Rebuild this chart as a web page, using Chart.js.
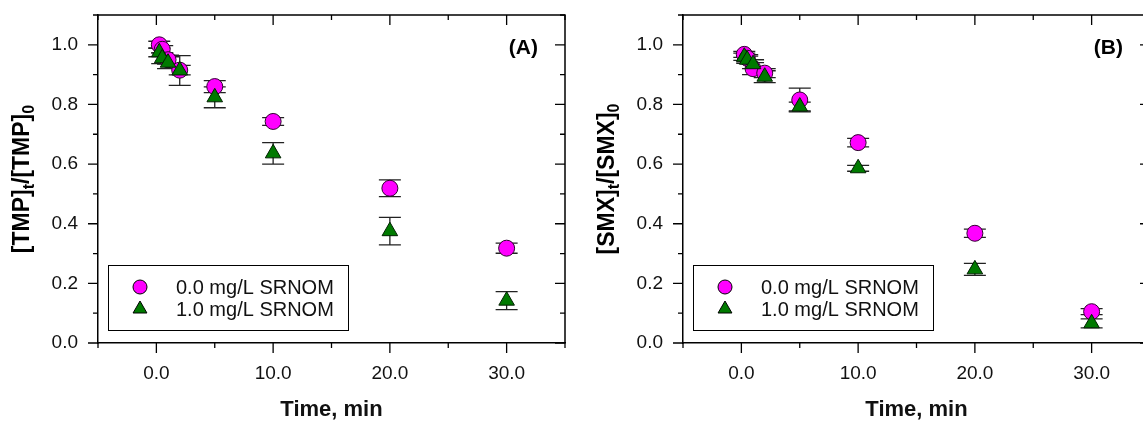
<!DOCTYPE html>
<html>
<head>
<meta charset="utf-8">
<script src="https://cdn.jsdelivr.net/npm/chart.js@4.4.0/dist/chart.umd.min.js"></script>
<style>
html, body { margin: 0; padding: 0; background: #fff; overflow: hidden; }
#wrap { position: relative; width: 1143px; height: 423px; overflow: hidden; }
canvas { position: absolute; top: 0; }
#chartA { left: 0; }
#chartB { left: 585px; }
</style>
</head>
<body>
<div id="wrap">
	<canvas id="chartA" width="580" height="423"></canvas>
	<canvas id="chartB" width="580" height="423"></canvas>
</div>
<script>
// sampling times (min)
var times = [0.25, 0.5, 1, 2, 5, 10, 20, 30];
var seriesLabels = ['0.0 mg/L SRNOM', '1.0 mg/L SRNOM'];

// panel A : TMP
var tmpNoNom    = [1.00, 0.985, 0.95, 0.915, 0.860, 0.743, 0.519, 0.318];
var tmpNoNomErr = [0.012, 0.012, 0.015, 0.016, 0.020, 0.013, 0.028, 0.017];
var tmpNom      = [0.975, 0.955, 0.940, 0.914, 0.824, 0.636, 0.375, 0.142];
var tmpNomErr   = [0.015, 0.018, 0.020, 0.050, 0.035, 0.036, 0.046, 0.030];

// panel B : SMX
var smxNoNom    = [0.968, 0.955, 0.920, 0.905, 0.815, 0.672, 0.368, 0.105];
var smxNoNomErr = [0.010, 0.012, 0.020, 0.015, 0.040, 0.014, 0.014, 0.010];
var smxNom      = [0.960, 0.950, 0.935, 0.893, 0.793, 0.586, 0.247, 0.066];
var smxNomErr   = [0.012, 0.012, 0.015, 0.020, 0.015, 0.010, 0.020, 0.015];

var FONT = '"Liberation Sans", Arial, sans-serif';
var MAGENTA = '#ff00ff', GREEN = '#007a00';

function points(vals) {
	return times.map(function(t, i){ return {x: t, y: vals[i]}; });
}

var decorPlugin = {
	id: 'decor',
	beforeDatasetsDraw: function(chart) {
		// error bars
		var ctx = chart.ctx, xs = chart.scales.x, ys = chart.scales.y;
		ctx.save();
		ctx.strokeStyle = '#222';
		ctx.lineWidth = 1.3;
		chart.data.datasets.forEach(function(ds){
			ds.errors.forEach(function(e, i){
				var px = xs.getPixelForValue(ds.data[i].x);
				var top = ys.getPixelForValue(ds.data[i].y + e);
				var bot = ys.getPixelForValue(ds.data[i].y - e);
				ctx.beginPath();
				ctx.moveTo(px, top); ctx.lineTo(px, bot);
				ctx.moveTo(px - 11, top); ctx.lineTo(px + 11, top);
				ctx.moveTo(px - 11, bot); ctx.lineTo(px + 11, bot);
				ctx.stroke();
			});
		});
		ctx.restore();
	},
	afterDraw: function(chart, args, opts) {
		var ctx = chart.ctx, a = chart.chartArea;
		var xs = chart.scales.x, ys = chart.scales.y;
		ctx.save();
		ctx.strokeStyle = '#000';
		ctx.fillStyle = '#000';

		// frame top / right
		ctx.lineWidth = 1.5;
		ctx.beginPath();
		ctx.moveTo(a.left, a.top); ctx.lineTo(a.right, a.top); ctx.lineTo(a.right, a.bottom);
		ctx.stroke();

		// tick marks: outward on bottom/left, inward on top/right
		ctx.lineWidth = 1.3;
		ctx.beginPath();
		xs.ticks.forEach(function(t){
			var px = xs.getPixelForValue(t.value);
			var len = (Math.round(t.value) % 10 === 0) ? 10 : 5;
			ctx.moveTo(px, a.bottom); ctx.lineTo(px, a.bottom + len);
			ctx.moveTo(px, a.top); ctx.lineTo(px, a.top + len);
		});
		ys.ticks.forEach(function(t, i){
			var py = ys.getPixelForValue(t.value);
			var len = (i % 2 === 0) ? 10 : 5;
			ctx.moveTo(a.left, py); ctx.lineTo(a.left - len, py);
			ctx.moveTo(a.right, py); ctx.lineTo(a.right - len, py);
		});
		ctx.stroke();

		// y title with subscripts
		var name = opts.compound;
		var parts = [['[' + name + ']', 23, 0], ['t', 16, 5], ['/[' + name + ']', 23, 0], ['0', 16, 5]];
		var total = 0;
		parts.forEach(function(p){
			ctx.font = 'bold ' + p[1] + 'px ' + FONT;
			p.w = ctx.measureText(p[0]).width;
			total += p.w;
		});
		ctx.save();
		ctx.translate(29, (a.top + a.bottom) / 2);
		ctx.rotate(-Math.PI / 2);
		ctx.textBaseline = 'alphabetic';
		ctx.textAlign = 'left';
		var x = -total / 2;
		parts.forEach(function(p){
			ctx.font = 'bold ' + p[1] + 'px ' + FONT;
			ctx.fillText(p[0], x, p[2]);
			x += p.w;
		});
		ctx.restore();

		// panel label
		ctx.font = 'bold 21px ' + FONT;
		ctx.textAlign = 'right';
		ctx.textBaseline = 'middle';
		ctx.fillText(opts.label, a.right - 27, 48);

		// legend box
		var lx = a.left + 10, ly = a.bottom - 78, lw = 240, lh = 65;
		ctx.lineWidth = 1;
		ctx.strokeRect(lx + 0.5, ly + 0.5, lw, lh);
		ctx.font = '20px ' + FONT;
		ctx.textAlign = 'left';
		chart.data.datasets.forEach(function(ds, i){
			var ry = ly + 22 + i * 22;
			ctx.fillStyle = ds.backgroundColor;
			ctx.strokeStyle = '#000';
			Chart.helpers.drawPoint(ctx, {
				pointStyle: ds.pointStyle,
				radius: ds.pointStyle === 'circle' ? 7 : 8,
				rotation: 0,
				borderWidth: 1
			}, lx + 32, ry);
			ctx.fillStyle = '#111';
			ctx.fillText(ds.label, lx + 68, ry + 1);
		});
		ctx.restore();
	}
};

function makeChart(id, label, compound, noNom, noNomErr, nom, nomErr) {
	return new Chart(id, {
		type: 'scatter',
		data: {
			datasets: [{
				label: seriesLabels[0],
				data: points(noNom),
				errors: noNomErr,
				pointStyle: 'circle',
				pointRadius: 8,
				backgroundColor: MAGENTA,
				borderColor: '#300030',
				borderWidth: 1,
				order: 2
			}, {
				label: seriesLabels[1],
				data: points(nom),
				errors: nomErr,
				pointStyle: 'triangle',
				pointRadius: 9,
				backgroundColor: GREEN,
				borderColor: '#002000',
				borderWidth: 1,
				order: 1
			}]
		},
		options: {
			responsive: false,
			animation: false,
			events: [],
			layout: { padding: { left: 0, right: 15, top: 15, bottom: 0 } },
			plugins: {
				legend: { display: false },
				tooltip: { enabled: false },
				decor: { label: label, compound: compound }
			},
			scales: {
				x: {
					type: 'linear',
					min: -5, max: 35,
					afterFit: function(s){ s.height = 80; s.paddingLeft = 0; s.paddingRight = 0; },
					grid: { display: false, drawTicks: false },
					border: { display: true, color: '#000', width: 1.5 },
					ticks: {
						stepSize: 5,
						autoSkip: false,
						maxRotation: 0,
						padding: 19,
						color: '#111',
						font: { family: FONT, size: 19 },
						callback: function(v){ return (Math.round(v) % 10 === 0) ? v.toFixed(1) : ''; }
					},
					title: {
						display: true,
						text: 'Time, min',
						color: '#111',
						padding: { top: 0, bottom: 0 },
						font: { family: FONT, size: 22, weight: 'bold' }
					}
				},
				y: {
					min: 0, max: 1.1,
					afterFit: function(s){ s.width = 98; s.paddingTop = 0; s.paddingBottom = 0; },
					grid: { display: false, drawTicks: false },
					border: { display: true, color: '#000', width: 1.5 },
					ticks: {
						stepSize: 0.1,
						autoSkip: false,
						padding: 20,
						color: '#111',
						font: { family: FONT, size: 19 },
						callback: function(v, i){ return (i % 2 === 0) ? v.toFixed(1) : ''; }
					}
				}
			}
		},
		plugins: [decorPlugin]
	});
}

var chartA = makeChart('chartA', '(A)', 'TMP', tmpNoNom, tmpNoNomErr, tmpNom, tmpNomErr);
var chartB = makeChart('chartB', '(B)', 'SMX', smxNoNom, smxNoNomErr, smxNom, smxNomErr);
</script>
</body>
</html>
